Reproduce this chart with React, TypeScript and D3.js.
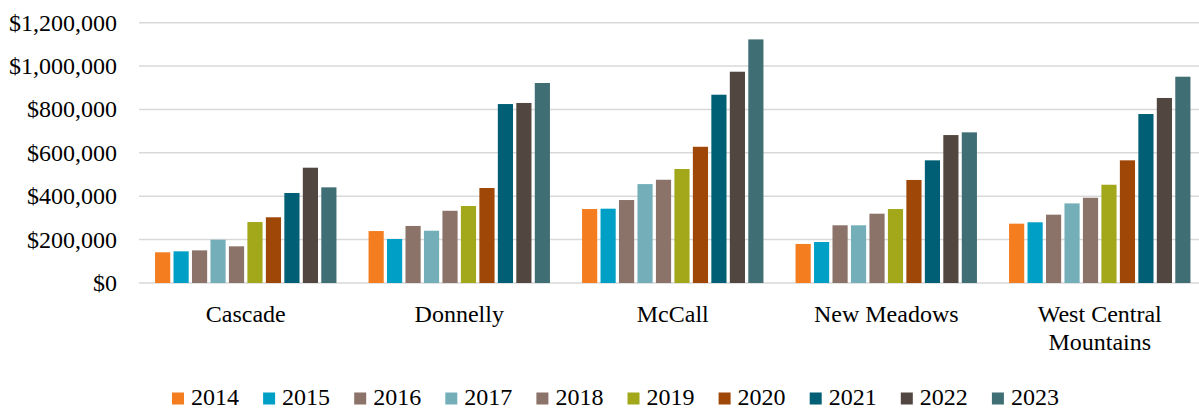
import React from "react";
import * as d3 from "d3";

const categories = ["Cascade", "Donnelly", "McCall", "New Meadows", "West Central Mountains"];
const categoryLines = [["Cascade"], ["Donnelly"], ["McCall"], ["New Meadows"], ["West Central", "Mountains"]];
const years = ["2014", "2015", "2016", "2017", "2018", "2019", "2020", "2021", "2022", "2023"];
const colors = ["#F47D20", "#00A0C6", "#8B7369", "#74AFB9", "#8B7369", "#A2A81A", "#9E4707", "#005F75", "#524640", "#3F6E74"];

const cascade = [141500, 146000, 150500, 199500, 169000, 281000, 303000, 415000, 531500, 441000];
const donnelly = [239500, 203000, 263000, 241000, 333000, 355000, 438000, 825000, 830000, 922000];
const mccall = [341000, 342500, 382500, 456000, 476000, 525500, 628000, 868000, 974000, 1123000];
const newMeadows = [180000, 189000, 266000, 266000, 319500, 341000, 475000, 565500, 682000, 694500];
const westCentral = [273500, 280000, 315000, 367000, 393000, 453000, 565500, 779000, 853000, 951000];
const seriesByCategory = [cascade, donnelly, mccall, newMeadows, westCentral];

const yTicks = [0, 200000, 400000, 600000, 800000, 1000000, 1200000];

const textStyle: React.CSSProperties = {
  fontFamily: '"Liberation Serif", "DejaVu Serif", serif',
  fontSize: "24px",
  fill: "#000",
};

export default function App() {
  const W = 1199;
  const H = 408;
  const x0 = d3.scaleBand<string>().domain(categories).range([139, 1206.5]).paddingInner(0).paddingOuter(0);
  const step = x0.step();
  const x1 = d3.scaleBand<string>().domain(years).range([14.4, step - 14.4]).paddingInner(0).paddingOuter(0);
  const y = d3.scaleLinear().domain([0, 1200000]).range([283, 22.7]);
  const fmt = d3.format("$,.0f");
  const gap = 3.3;
  const barW = x1.bandwidth() - gap;

  const legendStart = 172;
  const legendStep = 91.1;

  return (
    <svg width={W} height={H} style={{ position: "absolute", left: 0, top: 0 }}>
      <rect width={W} height={H} fill="#fff" />
      {yTicks.map((t) => (
        <g key={t}>
          <line x1={139} x2={W} y1={y(t)} y2={y(t)} stroke="#D9D9D9" strokeWidth={1.5} />
          <text x={117} y={y(t) + 8} textAnchor="end" style={textStyle}>
            {fmt(t)}
          </text>
        </g>
      ))}
      {categories.map((c, ci) => (
        <g key={c} transform={`translate(${x0(c)},0)`}>
          {years.map((yr, yi) => {
            const v = seriesByCategory[ci][yi];
            return (
              <rect
                key={yr}
                x={(x1(yr) as number) + gap / 2}
                y={y(v)}
                width={barW}
                height={y(0) - y(v)}
                fill={colors[yi]}
              />
            );
          })}
          <text textAnchor="middle" style={textStyle}>
            {categoryLines[ci].map((ln, li) => (
              <tspan key={li} x={step / 2} y={321.5 + li * 28.5}>
                {ln}
              </tspan>
            ))}
          </text>
        </g>
      ))}
      {years.map((yr, i) => (
        <g key={yr} transform={`translate(${legendStart + i * legendStep},0)`}>
          <rect x={0} y={392.5} width={12} height={12} fill={colors[i]} />
          <text x={19} y={405} style={textStyle}>
            {yr}
          </text>
        </g>
      ))}
    </svg>
  );
}
